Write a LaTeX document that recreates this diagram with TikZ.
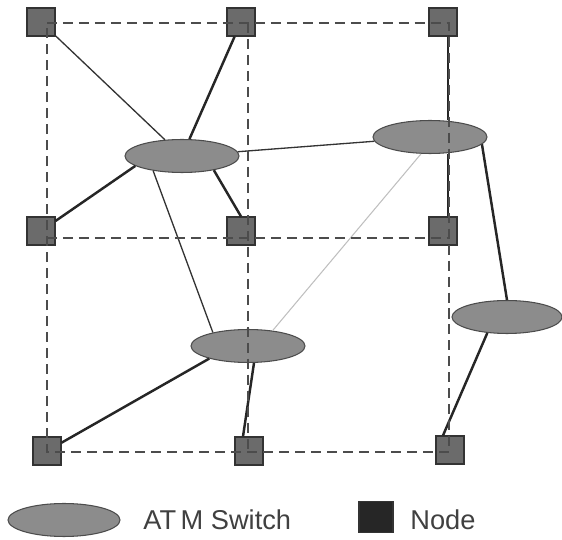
\documentclass[tikz,border=0pt]{standalone}
\usepackage{fontspec}
\setmainfont{Liberation Sans}
\usetikzlibrary{shapes.geometric}

\begin{document}
\begin{tikzpicture}[x=0.02cm,y=-0.02cm,
		host/.style={draw=black!80,fill=black!58,line width=0.6pt,minimum size=0.56cm,inner sep=0pt},
		switch/.style={ellipse,draw=black!70,fill=black!45,line width=0.6pt,minimum width=2.28cm,minimum height=0.66cm,inner sep=0pt},
		gridline/.style={black!70,line width=0.6pt,dash pattern=on 5.7pt off 3.4pt},
		fat/.style={black!85,line width=1.4pt},
		slim/.style={black!80,line width=0.75pt},
		faint/.style={black!25,line width=0.6pt},
		label/.style={anchor=base west,text=black!75,inner sep=0pt,font=\fontsize{15.5}{18}\selectfont}]
		\useasboundingbox (0,0) rectangle (562,540);

		% ATM switches
		\node[switch] (sw1) at (182,156) {};
		\node[switch] (sw2) at (430,137) {};
		\node[switch] (sw3) at (248,346) {};
		\node[switch,minimum width=2.2cm] (sw4) at (507,317) {};

		% nodes
		\node[host] (n11) at (41,22) {};
		\node[host] (n12) at (241,22) {};
		\node[host] (n13) at (443,22) {};
		\node[host] (n21) at (41,231) {};
		\node[host] (n22) at (241,231) {};
		\node[host] (n23) at (443,231) {};
		\node[host] (n31) at (47,451) {};
		\node[host] (n32) at (249,451) {};
		\node[host] (n33) at (450,450) {};

		% links
		\draw[slim] (n11) -- (sw1);
		\draw[fat] (n12) -- (sw1);
		\draw[fat] (n21) -- (sw1.192);
		\draw[fat] (n22.north) -- (sw1.-24);
		\draw[slim] (sw1) -- (sw2);
		\draw[slim] (sw1.-153) -- (sw3.159);
		\draw[fat] ([xshift=0.1cm]n13.south) -- ([xshift=0.1cm]n13.south |- sw2.north);
		\draw[fat] ([xshift=0.1cm]n23.north) -- ([xshift=0.1cm]n23.north |- sw2.south);
		\draw[fat] (sw2.-8) -- (sw4.north);
		\draw[faint] (sw2.-118) -- (sw3.32);
		\draw[fat] (n31) -- (sw3.198);
		\draw[fat] ([xshift=-0.12cm]n32.north) -- ([xshift=0.12cm]sw3.south);
		\draw[fat] ([xshift=-0.14cm]n33.north) -- (sw4.-141);

		% dashed grid
		\coordinate (g11) at (47,23);
		\coordinate (g12) at (248,23);
		\coordinate (g13) at (449,23);
		\coordinate (g21) at (47,238);
		\coordinate (g23) at (449,238);
		\coordinate (g31) at (47,452);
		\coordinate (g32) at (248,452);
		\coordinate (g33) at (449,452);
		\draw[gridline] (g11) -- (g13) -- (g33) -- (g31) -- cycle;
		\draw[gridline] (g21) -- (g23);
		\draw[gridline] (g12) -- (g32);

		% key
		\node[switch,minimum width=2.24cm] (keysw) at (64,520) {};
		\node[label] (keyswtext) at (143,530) {AT\,M Switch};
		\node[host,fill=black!85,minimum width=0.68cm,minimum height=0.62cm] (keynode) at (376,517) {};
		\node[label] (keynodetext) at (410,530) {Node};
	\end{tikzpicture}
\end{document}
